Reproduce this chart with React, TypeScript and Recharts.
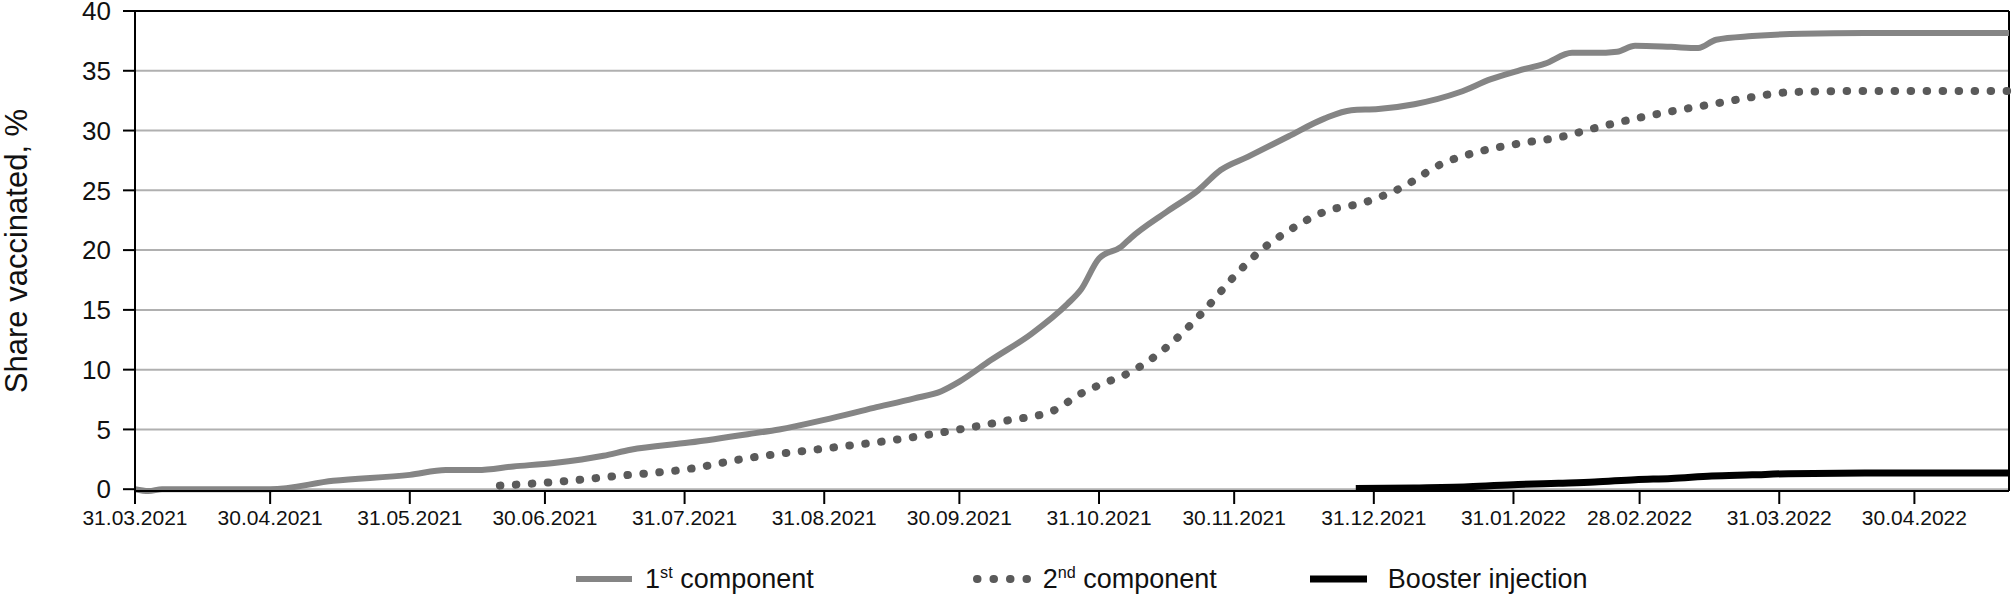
import { LineChart, Line, XAxis, YAxis, CartesianGrid, Legend, ReferenceLine } from 'recharts'

// days counted from 31.03.2021
const firstDays = [0, 3, 6, 30, 44, 61, 69, 76, 84, 93, 104, 110, 123, 136, 143, 153, 164, 173, 179, 183, 190, 199, 207, 210, 214, 219, 221, 229, 236, 241, 247, 256, 264, 270, 276, 284, 294, 301, 307, 313, 319, 324, 329, 333, 341, 347, 351, 359, 370, 384, 416]
const firstValues = [0, -0.15, 0, 0, 0.7, 1.2, 1.6, 1.6, 1.9, 2.2, 2.8, 3.3, 3.9, 4.6, 5.0, 5.8, 6.8, 7.6, 8.2, 9.0, 10.8, 13, 15.5, 16.7, 19.3, 20.3, 21, 23.2, 25, 26.7, 27.8, 29.5, 31, 31.7, 31.8, 32.2, 33.2, 34.3, 35, 35.6, 36.5, 36.5, 36.6, 37.1, 37.0, 36.9, 37.6, 37.9, 38.1, 38.15, 38.15]

const secondDays = [81, 93, 107, 123, 136, 153, 170, 183, 193, 204, 210, 214, 221, 230, 237, 244, 250, 256, 264, 273, 281, 290, 299, 307, 317, 324, 333, 341, 350, 359, 367, 379, 416]
const secondValues = [0.3, 0.6, 1.1, 1.7, 2.6, 3.4, 4.2, 5.0, 5.7, 6.6, 8.0, 8.7, 9.8, 12.2, 14.8, 17.8, 20.0, 21.6, 23.2, 24, 25.2, 27.2, 28.3, 28.9, 29.5, 30.2, 31.0, 31.6, 32.2, 32.8, 33.2, 33.3, 33.3]

const boosterDays = [271, 284, 296, 307, 316, 324, 333, 341, 350, 359, 367, 384, 416]
const boosterValues = [0.05, 0.1, 0.2, 0.4, 0.5, 0.6, 0.8, 0.9, 1.1, 1.2, 1.3, 1.35, 1.35]

const xTickDays = [0, 30, 61, 91, 122, 153, 183, 214, 244, 275, 306, 334, 365, 395]
const xTickLabels = ['31.03.2021', '30.04.2021', '31.05.2021', '30.06.2021', '31.07.2021', '31.08.2021', '30.09.2021', '31.10.2021', '30.11.2021', '31.12.2021', '31.01.2022', '28.02.2022', '31.03.2022', '30.04.2022']
const yTicks = [0, 5, 10, 15, 20, 25, 30, 35, 40]

const FONT = '"Liberation Sans", Arial, sans-serif'

const toPoints = (days: number[], values: number[]) => days.map((day, i) => ({ day, value: values[i] }))

const firstData = toPoints(firstDays, firstValues)
const secondData = toPoints(secondDays, secondValues)
const boosterData = toPoints(boosterDays, boosterValues)

const formatX = (day: number) => {
  const i = xTickDays.indexOf(day)
  return i >= 0 ? xTickLabels[i] : ''
}

function LegendContent() {
  return (
    <div style={{ display: 'flex', alignItems: 'center', paddingLeft: 576, height: 46, fontFamily: FONT, fontSize: 27, color: '#111' }}>
      <svg width={56} height={12}>
        <line x1={0} y1={6} x2={56} y2={6} stroke="#858585" strokeWidth={6} />
      </svg>
      <span style={{ marginLeft: 13 }}>1<sup style={{ fontSize: '0.6em' }}>st</sup> component</span>
      <svg width={60} height={12} style={{ marginLeft: 158 }}>
        <line x1={5} y1={6} x2={60} y2={6} stroke="#5a5a5a" strokeWidth={8} strokeLinecap="round" strokeDasharray="0.5 16" />
      </svg>
      <span style={{ marginLeft: 11 }}>2<sup style={{ fontSize: '0.6em' }}>nd</sup> component</span>
      <svg width={57} height={12} style={{ marginLeft: 93 }}>
        <line x1={0} y1={6} x2={57} y2={6} stroke="#000" strokeWidth={7} />
      </svg>
      <span style={{ marginLeft: 21 }}>Booster injection</span>
    </div>
  )
}

export default function App() {
  return (
    <div style={{ position: 'absolute', left: 0, top: 0, background: '#fff' }}>
      <LineChart width={2012} height={605} margin={{ top: 11, right: 3, left: 0, bottom: 55 }}>
        <CartesianGrid horizontal vertical={false} stroke="#b0b0b0" strokeWidth={2} />
        <XAxis
          type="number"
          dataKey="day"
          domain={[0, 416]}
          ticks={xTickDays}
          interval={0}
          tickFormatter={formatX}
          height={59}
          tickSize={13}
          tickMargin={6}
          axisLine={{ stroke: '#000', strokeWidth: 2 }}
          tickLine={{ stroke: '#000', strokeWidth: 2 }}
          tick={{ fontSize: 21, fill: '#111', fontFamily: FONT }}
        />
        <YAxis
          type="number"
          domain={[0, 40]}
          ticks={yTicks}
          interval={0}
          width={135}
          tickSize={12}
          tickMargin={12}
          axisLine={{ stroke: '#000', strokeWidth: 2 }}
          tickLine={{ stroke: '#000', strokeWidth: 2 }}
          tick={{ fontSize: 26, fill: '#111', fontFamily: FONT }}
          label={{ value: 'Share vaccinated, %', angle: -90, position: 'insideLeft', offset: 16, style: { textAnchor: 'middle', fontSize: 31, fill: '#111', fontFamily: FONT } }}
        />
        <ReferenceLine y={40} stroke="#000" strokeWidth={2} />
        <ReferenceLine x={416} stroke="#000" strokeWidth={2} />
        <Legend layout="horizontal" verticalAlign="middle" align="center" wrapperStyle={{ top: 556, left: 0, width: 2012 }} content={<LegendContent />} />
        <Line data={firstData} dataKey="value" name="1st component" type="monotone" stroke="#858585" strokeWidth={6} dot={false} isAnimationActive={false} />
        <Line data={secondData} dataKey="value" name="2nd component" type="monotone" stroke="#5a5a5a" strokeWidth={8} strokeLinecap="round" strokeDasharray="0.5 15.5" dot={false} isAnimationActive={false} />
        <Line data={boosterData} dataKey="value" name="Booster injection" type="monotone" stroke="#000" strokeWidth={7} dot={false} isAnimationActive={false} />
      </LineChart>
    </div>
  )
}
